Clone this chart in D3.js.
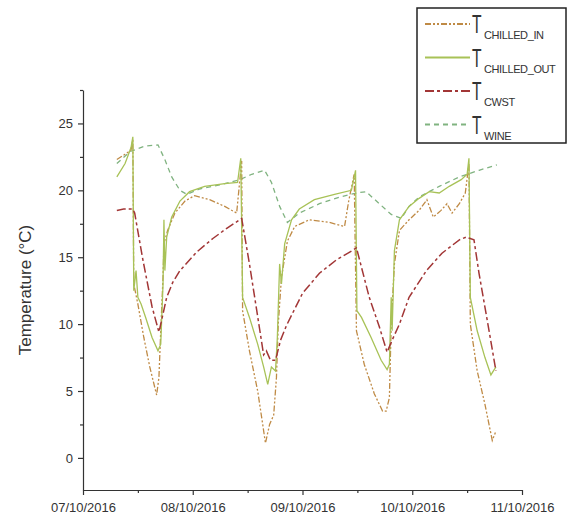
<!DOCTYPE html>
<html>
<head>
<meta charset="utf-8">
<script src="https://cdn.jsdelivr.net/npm/d3@7"></script>
<style>
    body { margin: 0; background: #fff; }
    svg { font-family: 'Liberation Sans', Arial, sans-serif; }
</style>
</head>
<body>
<div id="chart"></div>
<script>
const WIDTH = 579;
const HEIGHT = 521;
const PLOT = { left: 83, right: 522, top: 90, bottom: 490 };

const START = new Date(2016, 9, 7);
const END = new Date(2016, 9, 11);
const Y_DOMAIN = [-2.4, 27.5];
const Y_TICKS = [0, 5, 10, 15, 20, 25];
const Y_MINOR = [2.5, 7.5, 12.5, 17.5, 22.5, 27.5];

const SERIES_NAMES = ['CHILLED_IN', 'CHILLED_OUT', 'CWST', 'WINE'];

// hours after 07/10/2016 00:00
const chilledInHours = [7.4, 9.2, 10.5, 10.9, 11.1, 12.0, 13.3, 14.6, 16.1, 16.6, 17.0, 17.5, 17.7, 18.5, 20.1, 22.3, 24.4, 27.7, 31.0, 33.6, 34.7,
    34.9, 36.4, 38.2, 39.3, 39.9, 40.8, 41.7, 42.3, 42.7, 43.4, 44.7, 46.3, 49.5, 53.9, 57.2, 58.1, 59.3,
    59.8, 61.5, 63.7, 65.5, 66.3, 67.0, 67.4, 68.1, 69.2, 71.3, 73.5, 75.2, 76.6, 78.3, 79.6, 80.7, 82.3, 83.6, 84.4,
    84.7, 86.2, 87.9, 89.5, 90.3];
const chilledInTemps = [22.3, 22.7, 23.0, 23.8, 13.0, 11.5, 9.0, 6.8, 4.7, 6.0, 9.5, 13.5, 16.0, 17.0, 18.3, 19.2, 19.6, 19.3, 18.8, 18.3, 22.2,
    11.0, 8.0, 5.0, 2.5, 1.1, 2.5, 3.2, 6.0, 10.0, 13.5, 16.2, 17.3, 17.8, 17.6, 17.3, 19.2, 21.2,
    9.5, 7.0, 4.8, 3.5, 3.5, 4.5, 10.0, 14.5, 17.0, 17.8, 18.5, 19.3, 18.0, 18.5, 19.0, 18.3, 19.0, 19.8, 22.0,
    10.0, 6.5, 4.0, 1.3, 2.0];

const chilledOutHours = [7.4, 9.2, 10.5, 10.9, 11.1, 11.6, 12.0, 12.7, 13.7, 15.1, 16.4, 17.0, 17.5, 17.7, 17.9, 18.3, 19.4, 21.2, 23.3, 26.6, 31.0, 33.8, 34.5,
    34.9, 36.4, 38.2, 39.5, 40.4, 41.2, 42.1, 42.5, 43.0, 43.4, 44.1, 45.6, 47.3, 50.6, 55.0, 58.7, 59.6,
    59.9, 60.9, 63.0, 65.2, 66.5, 67.0, 67.4, 67.6, 68.1, 69.2, 71.3, 73.5, 75.7, 77.9, 80.1, 82.7, 84.0, 84.4,
    84.7, 86.2, 87.9, 89.2, 90.3];
const chilledOutTemps = [21.0, 22.0, 23.2, 24.0, 12.5, 14.0, 12.0, 11.5, 10.5, 9.0, 8.0, 8.5, 13.0, 17.8, 14.0, 16.5, 18.0, 19.2, 19.9, 20.3, 20.5, 20.6, 22.4,
    12.0, 10.5, 8.5, 6.8, 5.5, 6.8, 6.5, 9.0, 14.5, 13.0, 16.0, 17.8, 18.6, 19.3, 19.7, 20.0, 21.5,
    11.0, 10.5, 9.0, 7.3, 6.6, 7.0, 12.0, 9.5, 15.5, 17.8, 18.8, 19.4, 19.9, 19.8, 20.3, 20.8, 21.2, 22.4,
    12.0, 9.5, 7.5, 6.2, 6.8];

const cwstHours = [7.4, 8.9, 10.9, 11.3, 13.1, 15.1, 16.6, 17.2, 18.3, 19.6, 21.2, 24.9, 28.4, 31.6, 34.7,
    36.4, 38.0, 39.5, 40.1, 41.0, 42.1, 43.2, 44.5, 48.0, 51.7, 55.4, 58.9, 59.8,
    62.6, 64.8, 66.5, 67.6, 69.2, 71.3, 75.1, 78.5, 82.3, 83.8, 85.5, 86.6, 88.8, 90.3];
const cwstTemps = [18.5, 18.6, 18.6, 18.3, 14.8, 11.3, 9.4, 10.3, 12.0, 13.1, 14.0, 15.4, 16.4, 17.2, 17.9,
    14.5, 11.0, 7.7, 8.0, 7.3, 7.3, 8.8, 9.9, 12.3, 13.8, 14.8, 15.5, 15.7,
    12.0, 9.8, 7.9, 8.8, 10.0, 12.0, 14.0, 15.3, 16.3, 16.5, 16.3, 13.8, 9.5, 6.5];

const wineHours = [7.4, 10.3, 13.5, 16.4, 17.9, 19.4, 21.2, 22.7, 25.5, 29.9, 34.3, 36.9, 39.7, 41.2, 43.0, 44.7,
    47.3, 51.7, 56.1, 59.8, 61.9, 64.8, 67.4, 69.6, 71.3, 73.5, 77.9, 82.3, 86.6, 90.5];
const wineTemps = [22.0, 22.9, 23.3, 23.4, 22.3, 21.0, 20.0, 19.7, 20.1, 20.4, 20.8, 21.2, 21.5, 20.6, 18.8, 17.6,
    18.3, 19.0, 19.5, 19.8, 19.9, 19.0, 18.2, 17.9, 18.8, 19.5, 20.3, 21.0, 21.5, 21.9];

const STYLES = {
    'CHILLED_IN': { color: '#bf8a45', dash: '6,2,2,2,2,2' },
    'CHILLED_OUT': { color: '#a8c257', dash: null },
    'CWST': { color: '#a23636', dash: '9,3,3,3' },
    'WINE': { color: '#80b380', dash: '5,4' },
};

const seriesData = {
    'CHILLED_IN': [chilledInHours, chilledInTemps],
    'CHILLED_OUT': [chilledOutHours, chilledOutTemps],
    'CWST': [cwstHours, cwstTemps],
    'WINE': [wineHours, wineTemps],
};

const svg = d3.select('#chart')
    .append('svg')
    .attr('width', WIDTH)
    .attr('height', HEIGHT);

const x = d3.scaleTime().domain([START, END]).range([PLOT.left, PLOT.right]);
const y = d3.scaleLinear().domain(Y_DOMAIN).range([PLOT.bottom, PLOT.top]);

const toDate = h => new Date(START.getTime() + h * 3600 * 1000);

// Lines, wine at the back
const drawOrder = ['WINE', 'CHILLED_IN', 'CHILLED_OUT', 'CWST'];
drawOrder.forEach(name => {
    const [hours, temps] = seriesData[name];
    const points = hours.map((h, i) => ({ t: toDate(h), v: temps[i] }));
    const line = d3.line()
        .x(d => x(d.t))
        .y(d => y(d.v));
    svg.append('path')
        .datum(points)
        .attr('d', line)
        .style('fill', 'none')
        .style('stroke', STYLES[name].color)
        .style('stroke-width', name === 'CWST' ? 1.5 : 1.3)
        .style('stroke-dasharray', STYLES[name].dash);
});

// Y axis
const yAxis = svg.append('g')
    .attr('transform', `translate(${PLOT.left},0)`)
    .call(d3.axisLeft(y).tickValues(Y_TICKS).tickSize(5).tickPadding(5).tickSizeOuter(0));
svg.append('g')
    .attr('transform', `translate(${PLOT.left},0)`)
    .call(d3.axisLeft(y).tickValues(Y_MINOR).tickSize(3).tickFormat('').tickSizeOuter(0))
    .select('.domain').remove();

// X axis
const xAxis = svg.append('g')
    .attr('transform', `translate(0,${PLOT.bottom})`)
    .call(d3.axisBottom(x).ticks(d3.timeDay.every(1)).tickFormat(d3.timeFormat('%d/%m/%Y'))
        .tickSize(5).tickPadding(8).tickSizeOuter(0));
svg.append('g')
    .attr('transform', `translate(0,${PLOT.bottom})`)
    .call(d3.axisBottom(x).tickValues(d3.timeDay.range(START, END).map(d => d3.timeHour.offset(d, 12)))
        .tickSize(3).tickFormat('').tickSizeOuter(0))
    .select('.domain').remove();

svg.selectAll('.domain, .tick line').style('stroke', '#333').style('stroke-width', 1.2);
yAxis.selectAll('text').style('font-size', '13px').style('fill', '#333');
xAxis.selectAll('text').style('font-size', '13px').style('fill', '#333');

svg.append('text')
    .attr('transform', `translate(25,${(PLOT.top + PLOT.bottom) / 2}) rotate(-90)`)
    .attr('dy', '0.35em')
    .style('text-anchor', 'middle')
    .style('font-size', '17px')
    .style('fill', '#333')
    .text('Temperature (°C)');

// Legend
const legend = svg.append('g');
legend.append('rect')
    .attr('x', 417)
    .attr('y', 8)
    .attr('width', 149)
    .attr('height', 135)
    .style('fill', '#fff')
    .style('stroke', '#222')
    .style('stroke-width', 1.5);

const items = legend.selectAll('g.item')
    .data(SERIES_NAMES)
    .enter()
    .append('g')
    .attr('class', 'item')
    .attr('transform', (d, i) => `translate(425,${24 + i * 33.5})`);

items.append('line')
    .attr('x1', 0)
    .attr('x2', 45)
    .style('stroke', d => STYLES[d].color)
    .style('stroke-width', 2)
    .style('stroke-dasharray', d => STYLES[d].dash);

items.append('text')
    .attr('transform', 'translate(47,9) scale(0.6,1)')
    .style('font-size', '26px')
    .style('fill', '#333')
    .text('T');

items.append('text')
    .attr('x', 59)
    .attr('y', 15)
    .style('font-size', '11px')
    .style('letter-spacing', '-0.4px')
    .style('fill', '#333')
    .text(d => d);
</script>
</body>
</html>
